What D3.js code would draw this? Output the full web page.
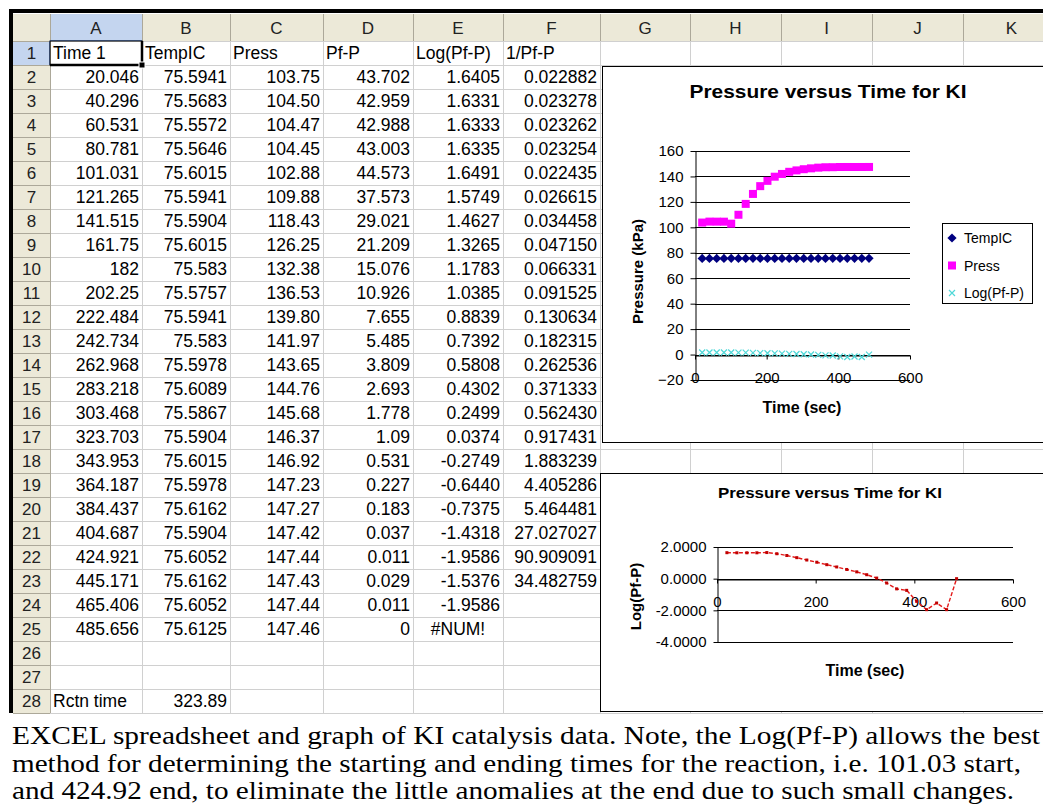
<!DOCTYPE html>
<html>
<head>
<meta charset="utf-8">
<script src="https://cdn.jsdelivr.net/npm/d3@7"></script>
<style>
  body { margin: 0; background: #fff; }
  svg { display: block; }
</style>
</head>
<body>
<svg id="sheet" width="1043" height="811"></svg>
<script>
const colLetters = ["A", "B", "C", "D", "E", "F", "G", "H", "I", "J", "K"];
const headers = ["Time 1", "TempIC", "Press", "Pf-P", "Log(Pf-P)", "1/Pf-P"];
const timeSec = [20.046, 40.296, 60.531, 80.781, 101.031, 121.265, 141.515, 161.75, 182, 202.25, 222.484, 242.734,
                 262.968, 283.218, 303.468, 323.703, 343.953, 364.187, 384.437, 404.687, 424.921, 445.171, 465.406, 485.656];
const tempC = [75.5941, 75.5683, 75.5572, 75.5646, 75.6015, 75.5941, 75.5904, 75.6015, 75.583, 75.5757, 75.5941, 75.583,
               75.5978, 75.6089, 75.5867, 75.5904, 75.6015, 75.5978, 75.6162, 75.5904, 75.6052, 75.6162, 75.6052, 75.6125];
const pressKPa = [103.75, 104.50, 104.47, 104.45, 102.88, 109.88, 118.43, 126.25, 132.38, 136.53, 139.80, 141.97,
                  143.65, 144.76, 145.68, 146.37, 146.92, 147.23, 147.27, 147.42, 147.44, 147.43, 147.44, 147.46];
const pfMinusP = [43.702, 42.959, 42.988, 43.003, 44.573, 37.573, 29.021, 21.209, 15.076, 10.926, 7.655, 5.485,
                  3.809, 2.693, 1.778, 1.09, 0.531, 0.227, 0.183, 0.037, 0.011, 0.029, 0.011, 0];
const logPfP = [1.6405, 1.6331, 1.6333, 1.6335, 1.6491, 1.5749, 1.4627, 1.3265, 1.1783, 1.0385, 0.8839, 0.7392,
                0.5808, 0.4302, 0.2499, 0.0374, -0.2749, -0.6440, -0.7375, -1.4318, -1.9586, -1.5376, -1.9586, null];
const invPfP = [0.022882, 0.023278, 0.023262, 0.023254, 0.022435, 0.026615, 0.034458, 0.047150, 0.066331, 0.091525,
                0.130634, 0.182315, 0.262536, 0.371333, 0.562430, 0.917431, 1.883239, 4.405286, 5.464481,
                27.027027, 90.909091, 34.482759, null, null];
const rctnLabel = "Rctn time";
const rctnTime = 323.89;

const chartTitle = "Pressure versus Time for KI";
const timeTicks = [0, 200, 400, 600];
const pressTicks = [-20, 0, 20, 40, 60, 80, 100, 120, 140, 160];
const logTicks = [-4, -2, 0, 2];
const legendNames = ["TempIC", "Press", "Log(Pf-P)"];
const captionLines = [
  "EXCEL spreadsheet and graph of KI catalysis data. Note, the Log(Pf-P) allows the best",
  "method for determining the starting and ending times for the reaction, i.e. 101.03 start,",
  "and 424.92 end, to eliminate the little anomalies at the end due to such small changes."
];

// ---- layout ----
const W = 1043, H = 811;
const sans = "'Liberation Sans', Arial, sans-serif";
const serif = "'Liberation Serif', 'Times New Roman', serif";
const colEdges = [13, 50, 142, 230, 323, 413, 503, 600, 690, 781, 872, 963, 1060];
const headTop = 14, gridTop = 41, rowH = 24, rowCount = 28;
const gridBottom = gridTop + rowCount * rowH;
const rowY = d3.scaleLinear().domain([1, rowCount + 1]).range([gridTop, gridBottom]);
const headFill = "#ECE9D8", headLine = "#ACA899", cellLine = "#D0D0D0", selFill = "#C4D5EF";

const svg = d3.select("#sheet");
svg.append("rect").attr("width", W).attr("height", H).attr("fill", "#fff");

// ---- spreadsheet grid ----
const sheet = svg.append("g");
sheet.append("rect").attr("x", 13).attr("y", headTop).attr("width", W - 13).attr("height", gridTop - headTop).attr("fill", headFill);
sheet.append("rect").attr("x", 13).attr("y", gridTop).attr("width", colEdges[1] - 13).attr("height", gridBottom - gridTop).attr("fill", headFill);
sheet.append("rect").attr("x", colEdges[1]).attr("y", headTop).attr("width", colEdges[2] - colEdges[1]).attr("height", gridTop - headTop).attr("fill", selFill);
sheet.append("rect").attr("x", 13).attr("y", gridTop).attr("width", colEdges[1] - 13).attr("height", rowH).attr("fill", selFill);

const rowLines = d3.range(1, rowCount + 2);
sheet.append("g").selectAll("line").data(rowLines).join("line")
  .attr("x1", colEdges[1]).attr("x2", W)
  .attr("y1", d => rowY(d) + 0.5).attr("y2", d => rowY(d) + 0.5)
  .attr("stroke", cellLine);
sheet.append("g").selectAll("line").data(rowLines).join("line")
  .attr("x1", 13).attr("x2", colEdges[1])
  .attr("y1", d => rowY(d) + 0.5).attr("y2", d => rowY(d) + 0.5)
  .attr("stroke", headLine);
sheet.append("g").selectAll("line").data(colEdges.slice(2)).join("line")
  .attr("x1", d => d + 0.5).attr("x2", d => d + 0.5)
  .attr("y1", gridTop).attr("y2", gridBottom)
  .attr("stroke", cellLine);
sheet.append("g").selectAll("line").data(colEdges.slice(1)).join("line")
  .attr("x1", d => d + 0.5).attr("x2", d => d + 0.5)
  .attr("y1", headTop).attr("y2", gridTop)
  .attr("stroke", headLine);
sheet.append("line").attr("x1", colEdges[1] + 0.5).attr("x2", colEdges[1] + 0.5)
  .attr("y1", gridTop).attr("y2", gridBottom).attr("stroke", headLine);
// selected header edges
sheet.append("line").attr("x1", colEdges[1]).attr("x2", colEdges[2]).attr("y1", gridTop - 0.5).attr("y2", gridTop - 0.5).attr("stroke", "#6B8FD0");
sheet.append("line").attr("x1", colEdges[1] - 0.5).attr("x2", colEdges[1] - 0.5).attr("y1", gridTop).attr("y2", gridTop + rowH).attr("stroke", "#6B8FD0");

// column letters and row numbers
sheet.append("g").selectAll("text").data(colLetters).join("text")
  .attr("x", (d, i) => (colEdges[i + 1] + colEdges[i + 2]) / 2)
  .attr("y", gridTop - 7)
  .attr("text-anchor", "middle")
  .attr("font-family", sans).attr("font-size", 17).attr("fill", "#222")
  .text(d => d);
sheet.append("g").selectAll("text").data(d3.range(1, rowCount + 1)).join("text")
  .attr("x", (13 + colEdges[1]) / 2)
  .attr("y", d => rowY(d) + rowH / 2 + 6)
  .attr("text-anchor", "middle")
  .attr("font-family", sans).attr("font-size", 17).attr("fill", "#222")
  .text(d => d);

// cell contents
const cells = [];
headers.forEach((h, c) => cells.push({ row: 1, col: c, text: h, align: "start" }));
const fmt = [
  v => String(v),
  v => String(v),
  v => v.toFixed(2),
  v => String(v),
  v => v == null ? "#NUM!" : v.toFixed(4),
  v => v == null ? "" : v.toFixed(6)
];
const columns = [timeSec, tempC, pressKPa, pfMinusP, logPfP, invPfP];
timeSec.forEach((t, r) => {
  columns.forEach((col, c) => {
    const v = col[r];
    cells.push({ row: r + 2, col: c, text: fmt[c](v), align: (c === 4 && v == null) ? "middle" : "end" });
  });
});
cells.push({ row: 28, col: 0, text: rctnLabel, align: "start" });
cells.push({ row: 28, col: 1, text: rctnTime.toFixed(2), align: "end" });

sheet.append("g").selectAll("text").data(cells).join("text")
  .attr("x", d => {
    const l = colEdges[d.col + 1], r = colEdges[d.col + 2];
    return d.align === "start" ? l + 3 : d.align === "middle" ? (l + r) / 2 : r - 3;
  })
  .attr("y", d => rowY(d.row) + rowH / 2 + 6)
  .attr("text-anchor", d => d.align)
  .attr("font-family", sans).attr("font-size", 17.5).attr("fill", "#000")
  .text(d => d.text);

// active cell A1
sheet.append("rect").attr("x", colEdges[1]).attr("y", rowY(1))
  .attr("width", colEdges[2] - colEdges[1]).attr("height", rowH)
  .attr("fill", "none").attr("stroke", "#000").attr("stroke-width", 1);
sheet.append("path")
  .attr("d", `M${colEdges[1]},${rowY(2)}H${colEdges[2]}V${rowY(1)}`)
  .attr("fill", "none").attr("stroke", "#000").attr("stroke-width", 2.5);
sheet.append("rect").attr("x", colEdges[2] - 3).attr("y", rowY(2) - 3).attr("width", 6).attr("height", 6)
  .attr("fill", "#000").attr("stroke", "#fff");

// ---- chart helpers ----
function styleAxis(g, size) {
  g.attr("font-family", null).attr("font-size", null);
  g.selectAll("text").attr("font-family", sans).attr("font-size", size).attr("fill", "#000");
  g.selectAll("line").attr("stroke", "#000");
  g.select(".domain").attr("stroke", "#000");
}

// ---- chart 1: pressure vs time ----
const c1 = svg.append("g");
c1.append("rect").attr("x", 602.5).attr("y", 66.5).attr("width", 470).attr("height", 376)
  .attr("fill", "#fff").attr("stroke", "#000");
c1.append("text").attr("x", 828).attr("y", 98).attr("text-anchor", "middle")
  .attr("font-family", sans).attr("font-weight", "bold").attr("font-size", 18)
  .attr("textLength", 277).attr("lengthAdjust", "spacingAndGlyphs")
  .text(chartTitle);

const x1 = d3.scaleLinear().domain([0, 600]).range([695, 910]);
const y1 = d3.scaleLinear().domain([-20, 160]).range([380, 151]);

c1.append("g").selectAll("line").data(pressTicks).join("line")
  .attr("x1", x1(0)).attr("x2", x1(600))
  .attr("y1", d => Math.round(y1(d)) + 0.5).attr("y2", d => Math.round(y1(d)) + 0.5)
  .attr("stroke", "#000");

c1.append("g").attr("transform", `translate(${x1(0) + 0.5},0)`)
  .call(d3.axisLeft(y1).tickValues(pressTicks).tickSize(5).tickSizeOuter(0).tickPadding(7))
  .call(g => styleAxis(g, 15));
c1.append("g").attr("transform", `translate(0,${Math.round(y1(0)) + 0.5})`)
  .call(d3.axisBottom(x1).tickValues(timeTicks).tickSize(4).tickSizeOuter(0).tickPadding(13))
  .call(g => styleAxis(g, 15));

c1.append("text").attr("transform", `translate(643,${(y1(160) + y1(-20)) / 2 + 6}) rotate(-90)`)
  .attr("text-anchor", "middle").attr("font-family", sans).attr("font-weight", "bold").attr("font-size", 15)
  .text("Pressure (kPa)");
c1.append("text").attr("x", 802).attr("y", 413).attr("text-anchor", "middle")
  .attr("font-family", sans).attr("font-weight", "bold").attr("font-size", 16)
  .text("Time (sec)");

const diamond = "M0,-4.6L4.6,0L0,4.6L-4.6,0Z";
const cross = "M-3,-3L3,3M-3,3L3,-3";
const navy = "#000080", magenta = "#FF00FF", cyan = "#4FD8D8";

c1.append("g").selectAll("path").data(timeSec.map((t, i) => [t, tempC[i]])).join("path")
  .attr("transform", d => `translate(${x1(d[0])},${y1(d[1])})`)
  .attr("d", diamond).attr("fill", navy);
c1.append("g").selectAll("rect").data(timeSec.map((t, i) => [t, pressKPa[i]])).join("rect")
  .attr("x", d => x1(d[0]) - 4).attr("y", d => y1(d[1]) - 4)
  .attr("width", 8).attr("height", 8).attr("fill", magenta);
c1.append("g").selectAll("path").data(timeSec.map((t, i) => [t, logPfP[i] ?? 0])).join("path")
  .attr("transform", d => `translate(${x1(d[0])},${y1(d[1])})`)
  .attr("d", cross).attr("stroke", cyan).attr("stroke-width", 1.2).attr("fill", "none");

// legend
const lg = c1.append("g");
lg.append("rect").attr("x", 942.5).attr("y", 223.5).attr("width", 90).attr("height", 80)
  .attr("fill", "#fff").attr("stroke", "#000");
const legY = d3.scalePoint().domain(legendNames).range([238, 293]);
lg.append("path").attr("transform", `translate(952,${legY("TempIC")})`).attr("d", diamond).attr("fill", navy);
lg.append("rect").attr("x", 948).attr("y", legY("Press") - 4).attr("width", 8).attr("height", 8).attr("fill", magenta);
lg.append("path").attr("transform", `translate(952,${legY("Log(Pf-P)")})`).attr("d", cross)
  .attr("stroke", cyan).attr("stroke-width", 1.2).attr("fill", "none");
lg.selectAll("text").data(legendNames).join("text")
  .attr("x", 964).attr("y", d => legY(d) + 5)
  .attr("font-family", sans).attr("font-size", 14).attr("fill", "#000")
  .text(d => d);

// ---- chart 2: log(Pf-P) vs time ----
const c2 = svg.append("g");
c2.append("rect").attr("x", 600.5).attr("y", 473.5).attr("width", 470).attr("height", 238)
  .attr("fill", "#fff").attr("stroke", "#000");
c2.append("text").attr("x", 830).attr("y", 498).attr("text-anchor", "middle")
  .attr("font-family", sans).attr("font-weight", "bold").attr("font-size", 15)
  .attr("textLength", 224).attr("lengthAdjust", "spacingAndGlyphs")
  .text(chartTitle);

const x2 = d3.scaleLinear().domain([0, 600]).range([717, 1013]);
const y2 = d3.scaleLinear().domain([-4, 2]).range([642, 547]);

c2.append("g").selectAll("line").data(logTicks).join("line")
  .attr("x1", x2(0)).attr("x2", x2(600))
  .attr("y1", d => Math.round(y2(d)) + 0.5).attr("y2", d => Math.round(y2(d)) + 0.5)
  .attr("stroke", "#000");
c2.append("g").attr("transform", `translate(${x2(0) + 0.5},0)`)
  .call(d3.axisLeft(y2).tickValues(logTicks).tickSize(4).tickSizeOuter(0).tickPadding(7).tickFormat(v => v.toFixed(4)))
  .call(g => styleAxis(g, 15));
c2.append("g").attr("transform", `translate(0,${Math.round(y2(0)) + 0.5})`)
  .call(d3.axisBottom(x2).tickValues(timeTicks).tickSize(4).tickSizeOuter(0).tickPadding(13))
  .call(g => styleAxis(g, 15));

c2.append("text").attr("transform", `translate(641,${(y2(2) + y2(-4)) / 2 + 2}) rotate(-90)`)
  .attr("text-anchor", "middle").attr("font-family", sans).attr("font-weight", "bold").attr("font-size", 15)
  .text("Log(Pf-P)");
c2.append("text").attr("x", 865).attr("y", 676).attr("text-anchor", "middle")
  .attr("font-family", sans).attr("font-weight", "bold").attr("font-size", 16)
  .text("Time (sec)");

const logPts = timeSec.map((t, i) => [t, logPfP[i] ?? 0]);
c2.append("path").datum(logPts)
  .attr("d", d3.line().x(d => x2(d[0])).y(d => y2(d[1])))
  .attr("fill", "none").attr("stroke", "#E41A1A").attr("stroke-width", 1.4).attr("stroke-dasharray", "4,2");
c2.append("g").selectAll("rect").data(logPts).join("rect")
  .attr("x", d => x2(d[0]) - 1.5).attr("y", d => y2(d[1]) - 1.5)
  .attr("width", 3).attr("height", 3).attr("fill", "#C00000");

// ---- sheet frame ----
svg.append("rect").attr("x", 9).attr("y", 9).attr("width", W - 9).attr("height", 4).attr("fill", "#000");
svg.append("rect").attr("x", 9).attr("y", 9).attr("width", 4).attr("height", gridBottom - 9).attr("fill", "#000");

// ---- caption ----
const capWidths = [1028, 1009, 1002];
svg.append("g").selectAll("text").data(captionLines).join("text")
  .attr("x", 12).attr("y", (d, i) => 744 + i * 27.5)
  .attr("font-family", serif).attr("font-size", 25.5).attr("fill", "#000")
  .attr("textLength", (d, i) => capWidths[i]).attr("lengthAdjust", "spacingAndGlyphs")
  .text(d => d);
</script>
</body>
</html>
